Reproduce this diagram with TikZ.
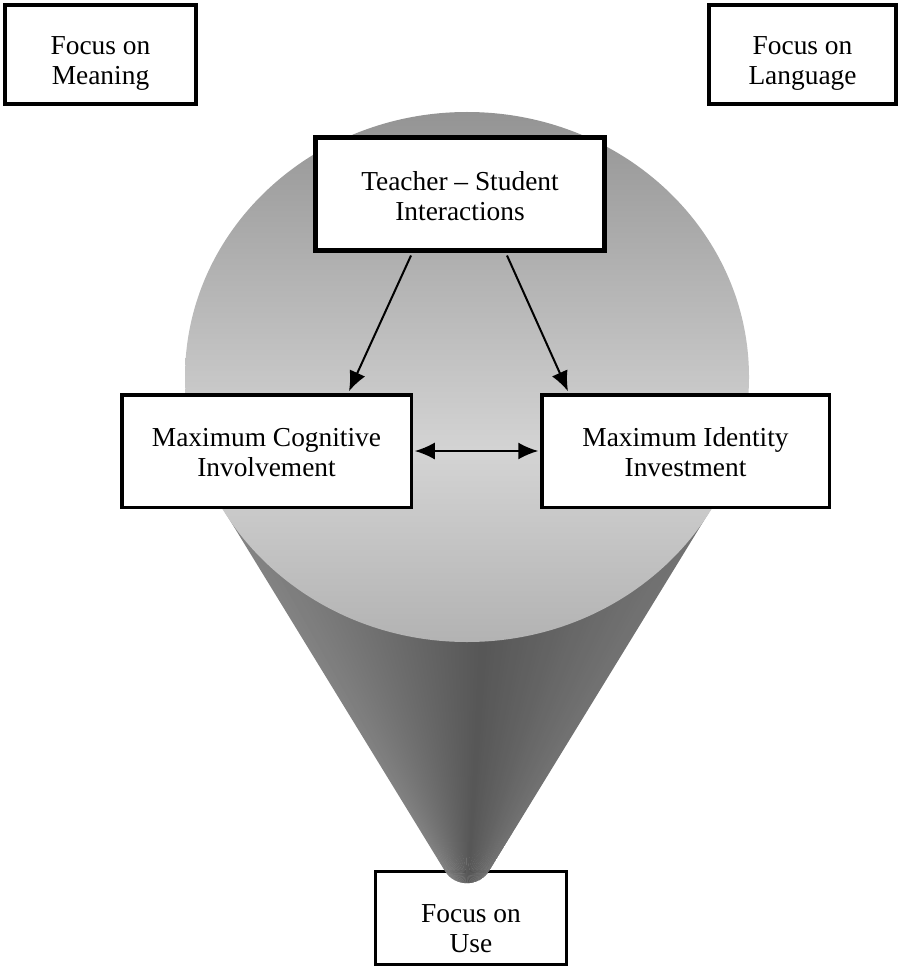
\documentclass[tikz,border=0pt]{standalone}
\usepackage{fontspec}
\setmainfont{Liberation Serif}
\usetikzlibrary{arrows.meta,calc}

% grey tones of the disc (bottom, light band, top)
\definecolor{discBot}{gray}{0.70}
\definecolor{discMid}{gray}{0.83}
\definecolor{discTop}{gray}{0.58}
\pgfdeclareverticalshading{discshade}{100bp}{%
  color(0bp)=(discBot); color(25bp)=(discBot); color(43bp)=(discMid);
  color(75bp)=(discTop); color(100bp)=(discTop)}

% two centred lines, lowered inside their box without changing its size
\newcommand{\stackedlabel}[2]{\raisebox{-#1}[\height][\depth]{\begin{tabular}{@{}c@{}}#2\end{tabular}}}

\begin{document}
\begin{tikzpicture}[x=0.5pt,y=-0.5pt,
  boxa/.style={draw=black, fill=white, rectangle, inner sep=0pt,
    font=\fontsize{13.7pt}{15pt}\selectfont},
  arr/.style={line width=1pt, -{Latex[length=10pt,width=8.5pt]}},
  biarr/.style={line width=1pt, {Latex[length=10pt,width=8.5pt]}-{Latex[length=10pt,width=8.5pt]}}]

\useasboundingbox (0,0) rectangle (903,968);

% box at the tip of the cone
\node[boxa, line width=1.5pt, minimum width=95.5pt, minimum height=46.5pt]
  (use) at (471,918) {\stackedlabel{6.5pt}{Focus on\\Use}};

% cone: a fan of thin slices from the apex, clipped to the rounded outline
\begin{scope}
  \clip (223,509) -- (444.7,870.7) .. controls (454.9,887.3) and (479.1,887.3) .. (489.3,870.7) -- (711,509) -- cycle;
  \foreach \i in {0,...,79} {
    \pgfmathsetmacro{\ta}{\i/80}
    \pgfmathsetmacro{\tb}{(\i+1.6)/80}
    \pgfmathsetmacro{\tm}{(\i+0.5)/80}
    \pgfmathsetmacro{\gv}{\tm<0.55 ? 0.34+0.17*(0.55-\tm)/0.55 : 0.34+0.11*(\tm-0.55)/0.45}
    \pgfmathsetmacro{\pct}{100*(1-\gv)}
    \fill[black!\pct] (467,907) -- ({223+488*\ta},509) -- ({223+488*\tb},509) -- cycle;
  }
\end{scope}

% top face of the cone
\shade[shading=discshade] (467,377) ellipse [x radius=141pt, y radius=132.5pt];

% corner boxes
\node[boxa, line width=2pt, minimum width=95.5pt, minimum height=49.5pt]
  (meaning) at (100.5,54.5) {\stackedlabel{4.5pt}{Focus on\\Meaning}};
\node[boxa, line width=2pt, minimum width=93.5pt, minimum height=49.5pt]
  (language) at (802.5,54.5) {\stackedlabel{4.5pt}{Focus on\\Language}};

% boxes on the disc
\node[boxa, line width=2.5pt, minimum width=144.5pt, minimum height=56.5pt]
  (teacher) at (460,194) {\stackedlabel{3pt}{Teacher – Student\\Interactions}};
\node[boxa, line width=1.75pt, minimum width=144.75pt, minimum height=56.25pt]
  (cog) at (266.5,451) {\stackedlabel{2pt}{Maximum Cognitive\\Involvement}};
\node[boxa, line width=1.75pt, minimum width=143.75pt, minimum height=56.25pt]
  (ident) at (685.5,451) {\stackedlabel{2pt}{Maximum Identity\\Investment}};

% connectors
\draw[arr] ($(teacher.south)+(-49,2.5)$) -- ($(cog.north)+(82.5,-1.75)$);
\draw[arr] ($(teacher.south)+(47,2.5)$) -- ($(ident.north)+(-117.5,-1.75)$);
\draw[biarr] ($(cog.east)+(1.75,0)$) -- ($(ident.west)+(-1.75,0)$);

\end{tikzpicture}
\end{document}
